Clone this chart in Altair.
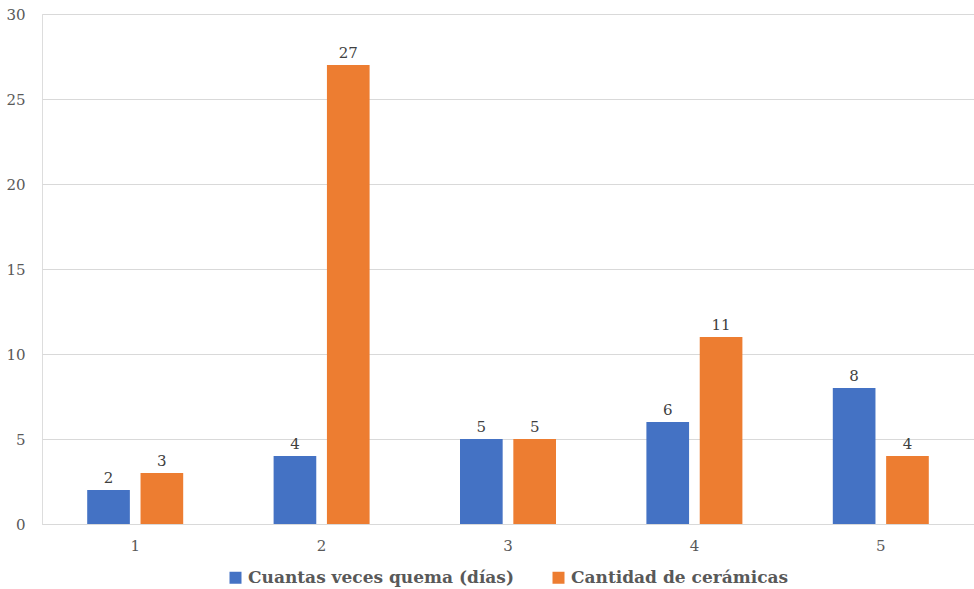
import altair as alt
import pandas as pd

categories = ["1", "2", "3", "4", "5"]
series_names = ["Cuantas veces quema (días)", "Cantidad de cerámicas"]
quema = [2, 4, 5, 6, 8]
ceramicas = [3, 27, 5, 11, 4]
colors = ["#4472C4", "#ED7D31"]

rows = []
for c, a, b in zip(categories, quema, ceramicas):
    rows.append({"cat": c, "serie": series_names[0], "valor": a})
    rows.append({"cat": c, "serie": series_names[1], "valor": b})
df = pd.DataFrame(rows)

FONT = "DejaVu Serif"

x = alt.X("cat:N", sort=categories, title=None,
          scale=alt.Scale(paddingInner=0.485, paddingOuter=0.2425),
          axis=alt.Axis(labelAngle=0, labelFont=FONT, labelFontSize=15,
                        labelColor="#595959", ticks=False, domain=True,
                        domainColor="#D9D9D9", labelPadding=14, grid=False))
xoff = alt.XOffset("serie:N", sort=series_names,
                   scale=alt.Scale(paddingInner=0.2, paddingOuter=0))
y = alt.Y("valor:Q", title=None,
          scale=alt.Scale(domain=[0, 30]),
          axis=alt.Axis(values=[0, 5, 10, 15, 20, 25, 30], labelFont=FONT,
                        labelFontSize=15, labelColor="#595959", ticks=False,
                        domain=False, gridColor="#D9D9D9", labelPadding=17))

base = alt.Chart(df).encode(x=x, xOffset=xoff, y=y)

bars = base.mark_bar().encode(
    color=alt.Color("serie:N", sort=series_names,
                    scale=alt.Scale(domain=series_names, range=colors),
                    legend=alt.Legend(title=None, orient="none", direction="horizontal",
                                      legendX=185, legendY=555,
                                      labelFont=FONT, labelFontSize=17,
                                      labelFontWeight="bold", labelColor="#595959",
                                      labelLimit=0,
                                      symbolType="square", symbolSize=144,
                                      symbolStrokeWidth=0, columnPadding=36,
                                      labelOffset=4))
)

labels = base.mark_text(dy=-12, font=FONT, fontSize=15, color="#404040").encode(
    text=alt.Text("valor:Q")
)

chart = (bars + labels).properties(
    width=932, height=510,
    autosize=alt.AutoSizeParams(type="none"),
    padding={"left": 42, "top": 14, "right": 0, "bottom": 65},
    background="white",
).configure_view(stroke=None).configure(font=FONT)

chart.save("out.html", embed_options={"renderer": "svg", "actions": False})
